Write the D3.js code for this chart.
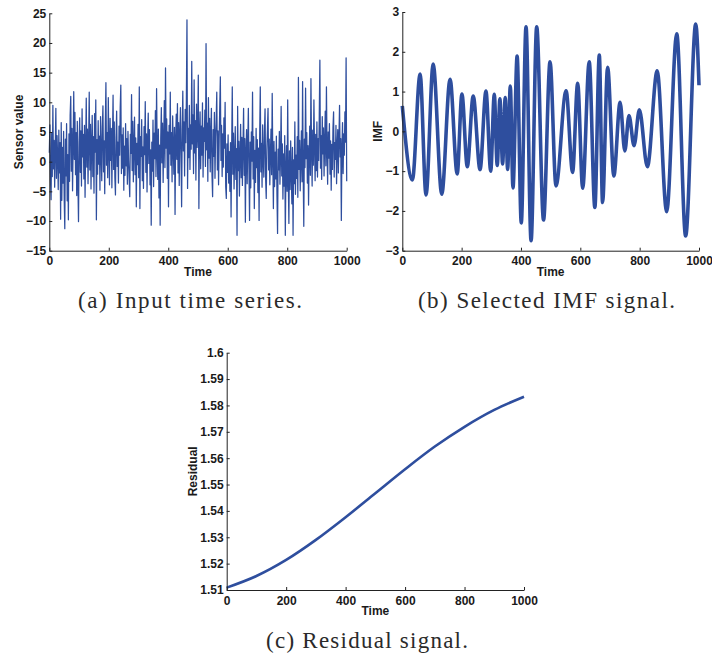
<!DOCTYPE html>
<html>
<head>
<meta charset="utf-8">
<script src="https://cdn.jsdelivr.net/npm/d3@7"></script>
<style>
  body { margin: 0; background: #fff; }
  .axis text { font-family: 'Liberation Sans', Arial, sans-serif; font-weight: bold; font-size: 12px; fill: #1a1a1a; }
  .axis path, .axis line { stroke: #222; stroke-width: 1px; }
  .label { font-family: 'Liberation Sans', Arial, sans-serif; font-weight: bold; font-size: 12px; fill: #1a1a1a; }
  .caption { font-family: 'Liberation Serif', 'DejaVu Serif', serif; font-size: 23px; fill: #2a2a2a; }
</style>
</head>
<body>
<script>
// tick labels
const timeTicks = [0, 200, 400, 600, 800, 1000]
const sensorTicks = [-15, -10, -5, 0, 5, 10, 15, 20, 25]
const imfTicks = [-3, -2, -1, 0, 1, 2, 3]
const residualTicks = [1.51, 1.52, 1.53, 1.54, 1.55, 1.56, 1.57, 1.58, 1.59, 1.6]

// (a) raw sensor series, evenly spaced over 0..1000
const sensorValues = [
  1.5, 6.2, -3.1, -6.4, 4.8, -2.5, 9.5, -1.2, 3.6, -4.3, 2.1, 9.0, -2.8, 4.4, 0.6, -4.7, 5.3, -1.9, 3.2, -9.7, 6.6, -6.5, 2.4, -3.6, 5.1,
  -6.2, -11.3, 3.8, -2.4, 6.4, -6.6, 1.2, -9.8, 4.7, -3.3, 7.9, 11.0, -1.6, 5.6, -4.9, 2.7, 11.8, 0.4, 8.3, -2.2, 4.9, -5.7, 6.8, -3.5, -10.1,
  3.1, 7.4, -1.8, 5.2, -4.1, 8.9, 0.8, 4.6, -2.9, 6.1, -6.0, 2.2, 10.7, -0.9, 5.5, -3.7, 3.4, 11.7, -1.4, 6.3, -4.6, 2.9, 7.8, -2.5, 4.2,
  -5.3, 8.1, 1.6, 10.4, -9.8, 3.7, -2.1, 6.9, -0.4, 4.3, -4.8, 7.6, 1.9, -3.2, 5.8, 9.4, -1.7, 3.5, -5.4, 6.2, 13.3, -0.6, 4.9, -2.7, 10.8,
  2.4, -3.9, 7.3, 0.2, 5.6, -4.4, 3.8, 11.2, -1.3, 6.7, -2.6, -5.6, 4.1, 8.5, -0.8, 3.3, -3.6, 6.0, 1.1, 9.2, 12.9, -2.0, 4.5, -1.1, 5.7,
  -4.8, 2.6, -2.3, 6.4, -0.7, 3.9, -3.8, 5.1, 0.3, -2.9, -5.9, 4.6, 1.4, 11.3, -1.5, 6.8, -3.4, 2.7, 7.5, -2.2, 4.0, -7.6, 3.1, -0.5, 6.3,
  -2.7, 12.6, -7.9, 4.2, 0.9, 7.1, -3.2, 2.5, -4.5, 5.9, 1.2, 10.1, -1.8, 4.7, -5.1, 3.6, 8.2, -0.3, 5.4, -3.9, 2.0, -10.7, 3.3, -1.6, 7.0,
  -4.2, 4.8, 0.5, 8.6, -2.5, 12.3, 1.7, -3.0, 5.5, -6.1, 2.8, -10.7, 4.0, 9.1, -0.2, 6.5, -3.5, 3.7, 10.3, -1.0, 15.8, 2.3, 7.2, -2.8, 5.0,
  -7.6, 6.1, 1.3, 11.7, -0.6, 4.9, -3.4, 7.7, 2.6, -2.1, 5.8, -8.9, 3.5, 8.0, 0.4, 9.8, -1.9, 6.6, -4.0, 4.4, 9.1, 1.0, -7.6, 5.3, 11.9,
  1.8, 6.7, -2.4, 8.8, 3.2, 10.6, 23.9, -4.5, 5.6, 0.7, 9.5, -1.3, 6.2, 2.1, 16.9, 3.0, 7.9, -2.0, 13.8, 1.5, 6.9, -3.1, 9.7, 2.4, 5.2,
  14.6, -7.9, 4.3, 8.4, -1.2, 6.0, 1.1, 9.9, -2.6, 5.7, 3.4, 8.7, -0.8, 19.9, 2.0, 6.5, -3.3, 10.8, 0.6, 7.3, -1.7, 4.6, 9.0, -2.3, -5.9,
  5.4, 0.9, 8.3, -2.8, 4.1, 7.0, 11.7, -1.4, 5.2, -3.9, 3.6, 9.3, 14.3, 0.2, 6.1, -2.5, 4.7, -0.9, 7.4, 2.3, 10.0, -4.2, -6.2, 3.0, -1.8,
  4.5, -3.6, 1.7, -5.0, 3.2, -9.3, 2.4, 12.6, -2.1, 4.8, -4.6, 0.7, 5.9, -3.0, 2.2, -12.4, 9.3, -1.5, 3.4, -5.8, 1.0, 6.3, -2.7, 4.1, -4.0,
  2.6, 9.0, -2.3, 3.9, -10.2, 1.5, 5.4, -3.7, 2.8, 9.0, -1.2, -9.9, 3.3, -4.4, 5.0, 0.1, 11.7, -2.9, 4.2, -7.9, 1.9, -3.5, 5.6, -1.0, 3.7,
  -5.2, 2.3, -9.9, 4.6, 12.6, -1.7, 3.1, -4.3, 6.2, 0.4, -2.6, 4.9, 8.9, -3.1, -6.2, 2.0, 5.3, 9.0, -1.4, 3.8, -3.9, 1.2, 5.5, -2.2, 11.5,
  0.8, -7.9, 3.4, -4.2, 1.6, -2.9, 4.3, -5.6, -12.1, 2.1, -1.4, 5.1, -3.8, 0.9, 9.3, -2.4, 3.0, -6.3, 1.3, -4.1, 4.4, -12.4, -1.6, 2.7, -5.0,
  10.4, -3.2, -10.4, 1.8, -4.7, 3.5, -2.0, -7.1, 2.4, -12.4, 0.3, -3.7, 6.7, -5.5, 1.1, -2.8, 4.2, -6.0, 14.2, -1.3, 3.6, -4.9, 0.7, 5.2, -3.4,
  13.5, -2.1, -10.9, 3.8, -1.0, 12.4, 0.5, 4.9, -3.6, 2.7, -7.3, 1.4, 6.0, -2.3, 14.0, 1.9, -4.1, 5.3, -0.6, 10.4, 2.5, -3.2, 4.6, -1.5, 6.7,
  -2.6, 3.9, 0.2, 7.8, 17.1, -1.1, 4.4, -3.0, 7.6, 1.3, 5.7, -2.4, 3.1, 8.5, -0.7, 12.6, 2.0, -3.8, 5.0, 0.6, 6.4, -2.1, 3.5, -4.8, 2.9,
  -1.3, 5.8, 8.4, -2.6, 3.2, 0.4, 6.1, -3.7, 2.5, 5.4, -1.9, 4.0, 9.5, 0.8, 3.9, -9.9, 2.2, 6.6, -2.0, 4.7, 1.1, 8.4, 3.3, 17.5, -3.3
]

// (b) IMF: turning points
const imfTimes = [0, 34, 60, 80, 104, 133, 161, 185, 201, 219, 239, 262, 282, 298, 310, 320, 329, 338, 347, 355,
  364, 373, 387, 401, 417, 434, 453, 476, 498, 518, 552, 574, 591, 608, 630, 649, 664, 675, 692, 713,
  734, 750, 764, 781, 799, 826, 859, 891, 925, 955, 989, 1000]
const imfValues = [0.64, -1.22, 1.44, -1.60, 1.69, -1.58, 1.31, -1.07, 0.94, -0.89, 0.89, -0.96, 1.01, -1.00, 0.93, -0.86, 0.82, -0.82, 0.85, -0.96,
  1.14, -1.42, 1.89, -2.30, 2.63, -2.75, 2.63, -2.23, 1.75, -1.37, 1.02, -1.03, 1.21, -1.43, 1.75, -1.91, 1.92, -1.79, 1.61, -1.12,
  0.73, -0.49, 0.40, -0.36, 0.54, -0.89, 1.52, -2.02, 2.45, -2.63, 2.70, 1.16]

// (c) residual trend
const residualTimes = [0, 100, 200, 300, 400, 500, 600, 700, 800, 900, 1000]
const residualValues = [1.5109, 1.5153, 1.5214, 1.5290, 1.5376, 1.5467, 1.5558, 1.5644, 1.5719, 1.5783, 1.5833]

const W = 712
const H = 657
const blue = '#2e4e9e'

const svg = d3.select('body')
  .append('svg')
  .attr('width', W)
  .attr('height', H)

const sensorData = sensorValues.map((v, i) => ({ t: i * 1000 / (sensorValues.length - 1), v: v }))
const imfData = imfTimes.map((t, i) => ({ t: t, v: imfValues[i] }))
const residualData = residualTimes.map((t, i) => ({ t: t, v: residualValues[i] }))

const drawPanel = (o) => {
  const g = svg.append('g')
    .attr('transform', `translate(${o.left},${o.top})`)

  const xScale = d3.scaleLinear().domain([0, 1000]).range([0, o.w])
  const yScale = d3.scaleLinear().domain(o.yDomain).range([o.h, 0])

  const xAxis = d3.axisBottom(xScale)
    .tickValues(timeTicks)
    .tickFormat(d3.format('d'))
    .tickSizeInner(-3)
    .tickSizeOuter(0)
    .tickPadding(6)

  const yAxis = d3.axisLeft(yScale)
    .tickValues(o.yTicks)
    .tickFormat(o.yFormat)
    .tickSizeInner(-3)
    .tickSizeOuter(0)
    .tickPadding(3)

  const line = d3.line()
    .x(d => xScale(d.t))
    .y(d => yScale(d.v))
    .curve(o.curve)

  g.append('path')
    .datum(o.data)
    .attr('fill', 'none')
    .attr('stroke', blue)
    .attr('stroke-width', o.strokeWidth)
    .attr('stroke-linejoin', 'round')
    .attr('d', line)

  g.append('g')
    .attr('class', 'axis')
    .attr('transform', `translate(0,${o.h})`)
    .call(xAxis)

  g.append('g')
    .attr('class', 'axis')
    .call(yAxis)

  g.append('text')
    .attr('class', 'label')
    .attr('x', o.w / 2)
    .attr('y', o.h + 25)
    .attr('text-anchor', 'middle')
    .text('Time')

  g.append('text')
    .attr('class', 'label')
    .attr('transform', `translate(${o.yLabelX},${o.h / 2}) rotate(-90)`)
    .attr('dy', '0.35em')
    .attr('text-anchor', 'middle')
    .text(o.yLabel)

  // caption under the panel, spaced out to the width of the original's font
  svg.append('text')
    .attr('class', 'caption')
    .attr('x', o.capX)
    .attr('y', o.capY)
    .attr('text-anchor', 'middle')
    .attr('textLength', o.capW)
    .attr('lengthAdjust', 'spacing')
    .text(o.caption)
}

const fmt = d => d3.format('d')(d).replace('-', '\u2212')

drawPanel({
  left: 49.3, top: 13.3, w: 297.4, h: 237.4,
  yDomain: [-15, 25], yTicks: sensorTicks, yFormat: fmt,
  yLabel: 'Sensor value', yLabelX: -31,
  data: sensorData, strokeWidth: 1.25, curve: d3.curveLinear,
  caption: '(a) Input time series.', capX: 190, capY: 308, capW: 224
})

drawPanel({
  left: 402.3, top: 12, w: 296.7, h: 238.7,
  yDomain: [-3, 3], yTicks: imfTicks, yFormat: fmt,
  yLabel: 'IMF', yLabelX: -24.6,
  data: imfData, strokeWidth: 3.6, curve: d3.curveMonotoneX,
  caption: '(b) Selected IMF signal.', capX: 546.5, capY: 308, capW: 257
})

drawPanel({
  left: 226.7, top: 352.7, w: 297.3, h: 237.3,
  yDomain: [1.51, 1.6], yTicks: residualTicks, yFormat: d => String(+d.toFixed(2)),
  yLabel: 'Residual', yLabelX: -34,
  data: residualData, strokeWidth: 2.6, curve: d3.curveMonotoneX,
  caption: '(c) Residual signal.', capX: 367, capY: 648, capW: 202
})
</script>
</body>
</html>
